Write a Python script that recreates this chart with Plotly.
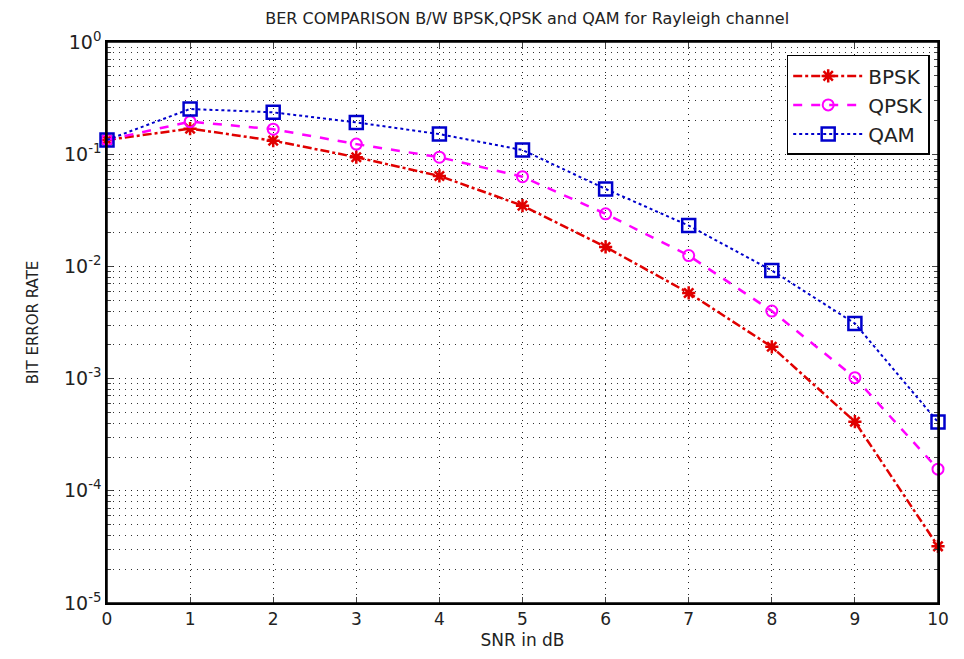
import plotly.graph_objects as go

snr = [0, 1, 2, 3, 4, 5, 6, 7, 8, 9, 10]
ber_bpsk = [0.134, 0.169, 0.132, 0.094, 0.064, 0.0348, 0.0149, 0.0058, 0.00192, 0.000413, 3.2e-5]
ber_qpsk = [0.134, 0.195, 0.167, 0.123, 0.094, 0.063, 0.0294, 0.0125, 0.0040, 0.00102, 1.56e-4]
ber_qam = [0.134, 0.253, 0.236, 0.192, 0.151, 0.109, 0.049, 0.0231, 0.0092, 0.0031, 0.00041]

xticks = [0, 1, 2, 3, 4, 5, 6, 7, 8, 9, 10]
ytick_vals = [1e-5, 1e-4, 1e-3, 1e-2, 1e-1, 1]
ytick_text = ["10<sup>-5</sup>", "10<sup>-4</sup>", "10<sup>-3</sup>", "10<sup>-2</sup>", "10<sup>-1</sup>", "10<sup>0</sup>"]

FONT = "DejaVu Sans, Liberation Sans, Arial"
GRID = "1px,5px"

fig = go.Figure()
fig.add_trace(go.Scatter(x=snr, y=ber_bpsk, name="BPSK", mode="lines+markers", cliponaxis=False,
                         line=dict(color="#e00000", width=2.5, dash="dashdot"),
                         marker=dict(symbol="asterisk-open", size=11, color="#e00000",
                                     line=dict(color="#e00000", width=2.5))))
fig.add_trace(go.Scatter(x=snr, y=ber_qpsk, name="QPSK", mode="lines+markers", cliponaxis=False,
                         line=dict(color="#ff00ff", width=2.5, dash="dash"),
                         marker=dict(symbol="circle-open", size=11, color="#ff00ff",
                                     line=dict(color="#ff00ff", width=2))))
fig.add_trace(go.Scatter(x=snr, y=ber_qam, name="QAM", mode="lines+markers", cliponaxis=False,
                         line=dict(color="#0000cc", width=2, dash="dot"),
                         marker=dict(symbol="square-open", size=13, color="#0000cc",
                                     line=dict(color="#0000cc", width=2.5))))

fig.update_layout(
    width=944, height=643,
    margin=dict(l=99, r=14, t=34, b=48, autoexpand=False),
    paper_bgcolor="white", plot_bgcolor="white",
    font=dict(family=FONT, size=17, color="#222"),
    title=dict(text="BER COMPARISON B/W BPSK,QPSK and QAM for Rayleigh channel",
               x=0.55, xanchor="center", y=0.984, yanchor="middle",
               font=dict(size=16, color="#222")),
    legend=dict(x=0.99, y=0.977, xanchor="right", yanchor="top",
                bgcolor="white", bordercolor="black", borderwidth=1.5,
                font=dict(size=20), itemwidth=70, tracegroupgap=4),
    showlegend=True,
    shapes=[dict(type="rect", xref="paper", yref="paper", x0=0, y0=0, x1=1, y1=1,
                 line=dict(color="black", width=1.5), layer="above")],
)
fig.update_xaxes(range=[0, 10], tickvals=xticks, ticks="inside", ticklen=6, automargin=False,
                 ticklabeloverflow="allow",
                 showline=True, linecolor="black", linewidth=1.5, mirror="ticks",
                 showgrid=True, gridcolor="#222", gridwidth=1, griddash=GRID,
                 zeroline=False, tickfont=dict(size=17),
                 title=dict(text="SNR in dB", font=dict(size=17), standoff=6))
fig.update_yaxes(type="log", range=[-5, 0], tickvals=ytick_vals, ticktext=ytick_text,
                 ticks="inside", ticklen=6, tickfont=dict(size=19), automargin=False,
                 showline=True, linecolor="black", linewidth=1.5, mirror="ticks",
                 showgrid=True, gridcolor="#222", gridwidth=1, griddash=GRID,
                 minor=dict(dtick="D1", ticks="inside", ticklen=4, showgrid=True,
                            gridcolor="#333", griddash=GRID, gridwidth=1),
                 title=dict(text="BIT ERROR RATE", font=dict(size=15), standoff=22))

fig.write_html("out.html")
